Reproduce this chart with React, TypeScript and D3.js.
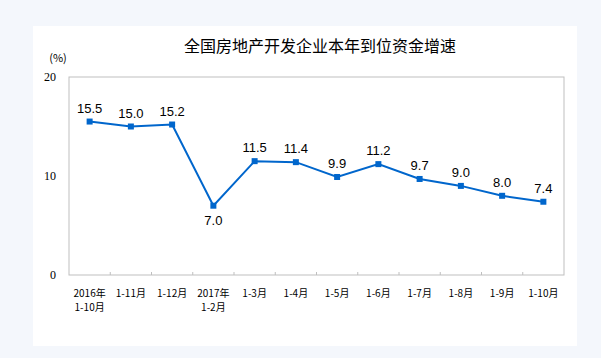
import React from "react";
import * as d3 from "d3";

const categories = [
  ["2016年", "1-10月"],
  ["1-11月"],
  ["1-12月"],
  ["2017年", "1-2月"],
  ["1-3月"],
  ["1-4月"],
  ["1-5月"],
  ["1-6月"],
  ["1-7月"],
  ["1-8月"],
  ["1-9月"],
  ["1-10月"],
];
const values = [15.5, 15.0, 15.2, 7.0, 11.5, 11.4, 9.9, 11.2, 9.7, 9.0, 8.0, 7.4];
const yTicks = [0, 10, 20];
const title = "全国房地产开发企业本年到位资金增速";

const W = 601, H = 358;
const left = 69, right = 564, top = 77, bottom = 275;

export default function App() {
  const x = d3.scaleBand<number>().domain(d3.range(categories.length)).range([left, right]);
  const y = d3.scaleLinear().domain([0, 20]).range([bottom, top]);
  const cx = (i: number) => (x(i) as number) + x.bandwidth() / 2;
  const line = d3.line<number>().x((_, i) => cx(i)).y((d) => y(d));
  const tickXs = d3.range(1, categories.length).map((i) => x(i) as number);
  return (
    <svg width={W} height={H} style={{ position: "absolute", left: 0, top: 0 }}>
      <rect x={0} y={0} width={W} height={H} fill="#f4f7fc" />
      <rect x={33} y={26} width={544} height={320} fill="#ffffff" />
      <text x={320} y={52} textAnchor="middle" fontSize={16} fontFamily="Noto Sans CJK SC" fill="#000">{title}</text>
      <text x={58} y={62} textAnchor="middle" fontSize={11} fontFamily="Noto Sans CJK SC" fill="#000">(%)</text>
      <rect x={left} y={top} width={right - left} height={bottom - top} fill="none" stroke="#bfbfbf" strokeWidth={1} />
      {tickXs.map((t, i) => (
        <line key={i} x1={t} x2={t} y1={bottom} y2={bottom - 3} stroke="#bfbfbf" />
      ))}
      {yTicks.map((t) => (
        <text key={t} x={56} y={y(t) + 4} textAnchor="end" fontSize={12} fontFamily="Liberation Serif" fill="#000">{t}</text>
      ))}
      {categories.map((c, i) =>
        c.map((s, j) => (
          <text key={i + "-" + j} x={cx(i)} y={296.5 + j * 14.6} textAnchor="middle" fontSize={10} fontFamily="Noto Sans CJK SC" fill="#000">{s}</text>
        ))
      )}
      <path d={line(values) || ""} fill="none" stroke="#0066cc" strokeWidth={2} />
      {values.map((v, i) => (
        <rect key={i} x={cx(i) - 3} y={y(v) - 3} width={6} height={6} fill="#0066cc" />
      ))}
      {values.map((v, i) => (
        <text key={i} x={cx(i)} y={i === 3 ? y(v) + 19 : y(v) - 9} textAnchor="middle" fontSize={13} fontFamily="Liberation Sans" fill="#000">{v.toFixed(1)}</text>
      ))}
    </svg>
  );
}
